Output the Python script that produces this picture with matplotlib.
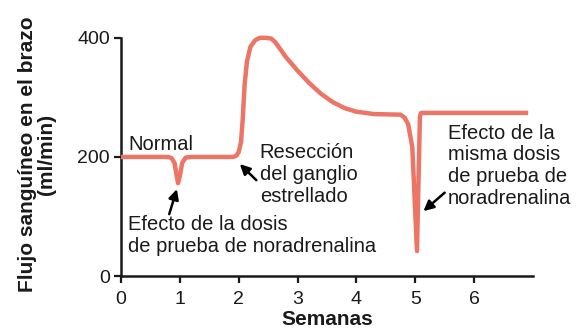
import numpy as np
from matplotlib import pyplot as plt

plt.rcParams['font.family'] = ['Liberation Sans', 'DejaVu Sans']

# curva de flujo (semanas, ml/min)
semanas = [0.0, 0.8, 0.86, 0.91, 0.94, 0.97, 1.0, 1.04, 1.1, 1.2, 1.9, 1.96, 2.0,
           2.04, 2.07, 2.1, 2.14, 2.2, 2.28, 2.36, 2.45, 2.55, 2.62, 2.7, 2.8,
           3.0, 3.2, 3.4, 3.6, 3.8, 4.0, 4.3, 4.75, 4.82, 4.88, 4.95, 5.03,
           5.08, 5.1, 6.92]
flujo = [200, 200, 198, 190, 172, 156, 168, 190, 199, 200, 200, 202, 208,
         225, 265, 320, 360, 385, 396, 400, 400, 399, 393, 382, 368,
         345, 324, 306, 292, 282, 276, 272, 271, 266, 255, 217, 42,
         268, 274, 274]

xticks = [0, 1, 2, 3, 4, 5, 6]
yticks = [0, 200, 400]

color_linea = '#ec7565'
color_texto = '#1a1a1a'

fig = plt.figure(figsize=(5.78, 3.35), dpi=100)
ax = fig.add_axes([0.2093, 0.176, 0.7127, 0.711])

ax.plot(semanas, flujo, color=color_linea, lw=3.2, solid_capstyle='butt',
        solid_joinstyle='round', clip_on=False, zorder=3)

ax.set_xlim(0, 7)
ax.set_ylim(0, 400)
ax.set_xticks(xticks)
ax.set_yticks(yticks)
ax.tick_params(axis='both', labelsize=14, colors=color_texto, width=1.6,
               length=5, pad=3)
ax.tick_params(axis='x', pad=6)
for s in ['top', 'right']:
    ax.spines[s].set_visible(False)
for s in ['left', 'bottom']:
    ax.spines[s].set_linewidth(1.8)
    ax.spines[s].set_color(color_texto)

ax.set_xlabel('Semanas', fontsize=15, fontweight='bold', color=color_texto,
              labelpad=1)
fig.text(0.064, 0.54, 'Flujo sanguíneo en el brazo\n(ml/min)', rotation=90,
         ha='center', va='center', multialignment='center', fontsize=15,
         fontweight='bold', color=color_texto, linespacing=1.05)

# textos
ax.text(0.12, 212, 'Normal', fontsize=14.5, color=color_texto, va='baseline')

flecha = dict(arrowstyle='-|>,head_length=0.6,head_width=0.3', color='black',
              lw=1.8, shrinkA=0, shrinkB=0)

ax.text(2.36, 223, 'Resección\ndel ganglio\nestrellado', fontsize=14.5,
        color=color_texto, va='top', ha='left', linespacing=1.18)
ax.annotate('', xy=(2.02, 188), xytext=(2.3, 161), arrowprops=flecha)

ax.text(0.12, 102, 'Efecto de la dosis\nde prueba de noradrenalina',
        fontsize=14.5, color=color_texto, va='top', ha='left', linespacing=1.18)
ax.annotate('', xy=(0.95, 146), xytext=(0.82, 104), arrowprops=flecha)

ax.text(5.56, 256, 'Efecto de la\nmisma dosis\nde prueba de\nnoradrenalina',
        fontsize=14.5, color=color_texto, va='top', ha='left', linespacing=1.18)
ax.annotate('', xy=(5.14, 109), xytext=(5.5, 140), arrowprops=flecha)

fig.savefig('out.png', dpi=100)
